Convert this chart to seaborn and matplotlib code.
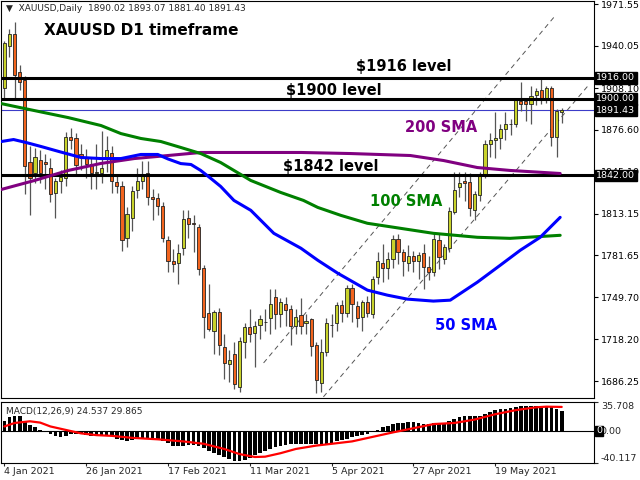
import matplotlib
matplotlib.use("Agg")
import matplotlib.pyplot as plt
import matplotlib.transforms as mtransforms
import seaborn as sns

# daily XAUUSD candles, 4 Jan 2021 .. 7 Jun 2021 (bar index = position)
opens = [1908, 1940, 1949, 1920, 1914, 1852, 1844, 1854, 1852, 1848,
         1829, 1838, 1840, 1871, 1870, 1858, 1856, 1851, 1844, 1844,
         1856, 1859, 1837, 1834, 1795, 1810, 1831, 1838, 1844, 1826,
         1825, 1819, 1793, 1777, 1776, 1787, 1810, 1806, 1803, 1772,
         1738, 1724, 1739, 1712, 1699, 1707, 1682, 1716, 1727, 1723,
         1729, 1731, 1734, 1750, 1737, 1745, 1741, 1728, 1736, 1730,
         1733, 1714, 1685, 1708, 1729, 1730, 1744, 1738, 1757, 1743,
         1735, 1746, 1737, 1765, 1776, 1772, 1779, 1794, 1784, 1776,
         1781, 1777, 1783, 1773, 1769, 1793, 1779, 1787, 1814, 1833,
         1838, 1837, 1816, 1827, 1843, 1866, 1869, 1870, 1877, 1881,
         1881, 1898, 1898, 1896, 1903, 1907, 1901, 1908, 1871, 1890.02]
highs = [1944, 1953, 1958, 1926, 1917, 1864, 1863, 1861, 1858, 1855,
         1840, 1846, 1875, 1878, 1874, 1866, 1862, 1856, 1866, 1876,
         1872, 1864, 1843, 1838, 1818, 1834, 1848, 1853, 1853, 1832,
         1829, 1822, 1796, 1786, 1790, 1816, 1816, 1812, 1805, 1774,
         1760, 1740, 1742, 1722, 1710, 1716, 1720, 1730, 1741, 1732,
         1736, 1741, 1756, 1756, 1749, 1750, 1744, 1741, 1749, 1737,
         1734, 1716, 1718, 1734, 1737, 1746, 1748, 1759, 1760, 1747,
         1748, 1751, 1766, 1784, 1790, 1784, 1797, 1798, 1786, 1789,
         1785, 1784, 1790, 1781, 1799, 1798, 1790, 1818, 1845, 1845,
         1845, 1844, 1830, 1845, 1869, 1874, 1890, 1881, 1890, 1885,
         1900, 1913, 1900, 1910, 1908, 1916, 1910, 1910, 1892, 1893.07]
lows = [1900, 1932, 1901, 1907, 1828, 1812, 1836, 1836, 1832, 1822,
        1810, 1829, 1834, 1862, 1842, 1846, 1840, 1832, 1832, 1836,
        1845, 1829, 1829, 1785, 1788, 1800, 1825, 1832, 1820, 1808,
        1812, 1792, 1769, 1769, 1760, 1782, 1795, 1784, 1767, 1719,
        1724, 1707, 1706, 1688, 1686, 1680, 1678, 1704, 1716, 1697,
        1718, 1724, 1722, 1726, 1727, 1728, 1714, 1722, 1722, 1722,
        1705, 1677, 1678, 1705, 1720, 1724, 1731, 1735, 1731, 1727,
        1724, 1735, 1734, 1760, 1761, 1764, 1772, 1775, 1766, 1770,
        1769, 1764, 1756, 1763, 1766, 1771, 1775, 1784, 1813, 1826,
        1823, 1811, 1808, 1823, 1840, 1856, 1855, 1862, 1869, 1873,
        1879, 1891, 1883, 1881, 1895, 1896, 1897, 1864, 1856, 1881.40]
closes = [1942, 1949, 1918, 1913, 1849, 1840, 1856, 1844, 1851, 1828,
          1838, 1841, 1871, 1869, 1850, 1856, 1851, 1844, 1845, 1848,
          1861, 1838, 1834, 1793, 1813, 1830, 1838, 1842, 1826, 1824,
          1819, 1795, 1777, 1775, 1783, 1809, 1805, 1805, 1771, 1735,
          1726, 1739, 1714, 1700, 1702, 1684, 1717, 1727, 1722, 1728,
          1733, 1731, 1745, 1737, 1746, 1740, 1728, 1735, 1728, 1732,
          1713, 1687, 1708, 1730, 1729, 1744, 1738, 1757, 1745, 1734,
          1746, 1738, 1764, 1777, 1772, 1779, 1794, 1784, 1777, 1781,
          1777, 1782, 1773, 1769, 1794, 1780, 1788, 1815, 1831, 1836,
          1836, 1817, 1828, 1842, 1866, 1869, 1870, 1877, 1881, 1881,
          1899, 1896, 1896, 1902, 1906, 1901, 1908, 1871, 1891, 1891.43]

# moving averages (bar index, price)
sma50_x = [-0.6, 1.8, 4.3, 7.2, 10.7, 15.0, 18.9, 22.8, 26.7, 30.0, 32.0, 34.5, 36.5,
           38.4, 40.4, 42.3, 44.9, 48.2, 52.7, 58.0, 61.3, 65.2, 71.0, 74.9, 78.8,
           83.9, 87.2, 92.5, 97.0, 100.9, 104.8, 108.7]
sma50_y = [1867.7, 1869.2, 1866.9, 1863.9, 1860.1, 1855.6, 1854.8, 1854.8, 1857.9, 1857.9,
           1854.5, 1851.0, 1850.3, 1845.8, 1839.7, 1833.7, 1823.1, 1815.6, 1798.2, 1786.9,
           1777.8, 1768.0, 1755.2, 1751.4, 1748.4, 1746.9, 1747.6, 1761.2, 1774.1, 1785.4,
           1795.2, 1810.3]
sma100_x = [-0.6, 5.9, 12.5, 18.9, 22.8, 26.7, 30.6, 34.5, 38.4, 42.3, 48.2, 54.0, 58.5,
            61.3, 65.8, 71.0, 76.1, 83.9, 92.5, 98.9, 108.7]
sma100_y = [1896.4, 1891.1, 1885.8, 1879.8, 1873.7, 1870.0, 1867.7, 1863.2, 1858.6, 1851.8,
            1838.2, 1829.2, 1823.1, 1817.8, 1811.8, 1805.8, 1802.8, 1798.2, 1795.2, 1794.4,
            1796.7]
sma200_x = [-0.6, 5.9, 12.5, 18.9, 25.4, 32.0, 38.4, 48.2, 58.0, 67.7, 79.4, 85.9, 92.5,
            98.9, 108.7]
sma200_y = [1831.4, 1838.2, 1845.8, 1851.1, 1854.8, 1857.1, 1859.4, 1859.4, 1859.4, 1858.6,
            1857.1, 1853.3, 1848.0, 1845.8, 1843.5]

# channel lines (bar index, price) at both ends
upper_x = [50.7, 107.7]
upper_y = [1700.1, 1962.8]
lower_x = [62.4, 114.5]
lower_y = [1674.4, 1911.5]

levels = [1916.0, 1900.0, 1842.0]
last_price = 1891.43
price_ticks = [1971.55, 1940.05, 1908.10, 1876.60, 1845.10, 1813.15,
               1781.65, 1749.70, 1718.20, 1686.25]

# MACD(12,26,9)
macd_hist = [12.8, 17.3, 18.2, 18.2, 12.0, 6.9, 4.3, 1.6, -0.8, -4.3,
             -6.1, -7.8, -6.4, -4.3, -3.9, -4.3, -5.2, -6.1, -6.1, -5.2,
             -5.6, -6.9, -9.6, -11.7, -12.0, -10.8, -9.6, -8.6, -9.6, -10.4,
             -11.2, -12.8, -15.5, -18.2, -19.0, -18.2, -17.3, -17.3, -19.0, -21.6,
             -24.6, -27.7, -29.4, -32.0, -34.4, -36.8, -37.1, -36.3, -33.6, -30.2,
             -27.7, -25.0, -22.4, -20.3, -19.0, -17.3, -16.4, -16.0, -16.4, -16.0,
             -16.0, -16.4, -16.8, -16.4, -15.2, -12.8, -11.2, -9.6, -7.8, -6.9,
             -5.2, -3.4, -1.8, 1.8, 4.3, 6.4, 8.6, 9.6, 10.4, 10.8,
             10.8, 9.9, 9.0, 9.0, 9.6, 9.9, 10.4, 12.0, 14.7, 17.3,
             18.4, 18.4, 18.2, 19.0, 21.6, 24.0, 25.9, 26.8, 27.7, 28.0,
             29.4, 30.6, 30.6, 30.6, 31.1, 30.6, 30.2, 29.4, 27.7, 24.537]
signal_x = [0, 2, 5, 7, 9, 12, 15, 18, 21, 25, 30, 35, 39, 43, 46, 49, 51, 54, 57,
            61, 64, 68, 72, 76, 80, 84, 88, 92, 96, 100, 104, 106, 109]
signal_y = [5.6, 9.9, 12.0, 10.4, 5.6, 1.3, -3.0, -5.2, -6.1, -8.6, -10.4, -13.0, -16.0,
            -22.4, -28.8, -32.4, -32.0, -27.7, -22.4, -18.2, -16.0, -13.0, -7.4, -1.8,
            3.4, 8.6, 9.9, 14.2, 20.8, 25.9, 29.4, 30.2, 29.865]
macd_ticks = [35.708, 0.0, -40.117]

date_pos = [0, 16, 32, 48, 64, 80, 96]
date_labels = ["4 Jan 2021", "26 Jan 2021", "17 Feb 2021", "11 Mar 2021",
               "5 Apr 2021", "27 Apr 2021", "19 May 2021"]


def draw_candles(ax):
    bull, bear = "#c8d22a", "#f2641e"
    idx = list(range(len(opens)))
    ax.vlines(idx, lows, highs, color="#555555", linewidth=0.9, zorder=2)
    for i in idx:
        o, c = opens[i], closes[i]
        ax.bar(i, abs(c - o), bottom=min(o, c), width=0.62,
               color=bull if c >= o else bear, edgecolor="#222222",
               linewidth=0.6, zorder=3)


def main():
    sns.set_style("white")
    plt.rcParams['font.family'] = ['DejaVu Sans']
    small = 6.8

    fig = plt.figure(figsize=(6.4, 4.8), dpi=100)
    ax = fig.add_axes([0.002, 0.171, 0.926, 0.827])
    ax2 = fig.add_axes([0.002, 0.035, 0.926, 0.127])

    # level lines and current price
    for lv in levels:
        ax.axhline(lv, color="black", linewidth=2.2, zorder=4)
    ax.axhline(last_price, color="#3c3cc8", linewidth=0.8, zorder=1)

    # channel
    ax.plot(upper_x, upper_y, color="#555555", linewidth=0.7, linestyle=(0, (5, 4)), zorder=1)
    ax.plot(lower_x, lower_y, color="#555555", linewidth=0.7, linestyle=(0, (5, 4)), zorder=1)

    draw_candles(ax)

    sns.lineplot(x=sma200_x, y=sma200_y, ax=ax, color="#800080", linewidth=2.2, zorder=5)
    sns.lineplot(x=sma100_x, y=sma100_y, ax=ax, color="#008000", linewidth=2.2, zorder=5)
    sns.lineplot(x=sma50_x, y=sma50_y, ax=ax, color="#0000ff", linewidth=2.2, zorder=5)

    ax.set_xlim(-0.6, 115.3)
    ax.set_ylim(1673.6, 1974.1)
    ax.set_xticks([])
    ax.yaxis.tick_right()
    ax.set_yticks(price_ticks)
    ax.set_yticklabels(["%.2f" % v for v in price_ticks])
    ax.tick_params(axis="y", direction="out", length=3, width=0.8, pad=2,
                   labelsize=small, colors="black", right=True, left=False)
    for s in ax.spines.values():
        s.set_color("black")
        s.set_linewidth(0.8)

    # boxed price labels
    trans = mtransforms.blended_transform_factory(ax.transAxes, ax.transData)
    for v in levels + [last_price]:
        ax.text(1.004, v, "%.2f" % v, transform=trans, ha="left", va="center",
                fontsize=small, color="white", clip_on=False, zorder=10,
                bbox=dict(boxstyle="square,pad=0.15", fc="black", ec="black"))

    ax.text(0.008, 0.982, "\u25bc  XAUUSD,Daily  1890.02 1893.07 1881.40 1891.43",
            transform=ax.transAxes, ha="left", va="center", fontsize=6.5)
    bold = dict(fontsize=10.5, fontweight="bold", ha="left", va="center", zorder=8)
    ax.text(7.8, 1951.5, "XAUUSD D1 timeframe", color="black", **dict(bold, fontsize=11))
    ax.text(68.7, 1924.3, "$1916 level", color="black", **bold)
    ax.text(55.0, 1906.2, "$1900 level", color="black", **bold)
    ax.text(78.4, 1878.3, "200 SMA", color="#800080", **bold)
    ax.text(54.4, 1848.8, "$1842 level", color="black", **bold)
    ax.text(71.6, 1822.4, "100 SMA", color="#008000", **bold)
    ax.text(84.3, 1728.8, "50 SMA", color="#0000ff", **bold)

    # MACD pane
    ax2.bar(range(len(macd_hist)), macd_hist, width=0.72, color="black", linewidth=0)
    ax2.axhline(0, color="black", linewidth=0.8)
    sns.lineplot(x=signal_x, y=signal_y, ax=ax2, color="#ff0000", linewidth=1.6)
    ax2.set_xlim(-0.6, 115.3)
    ax2.set_ylim(-40.117, 35.708)
    ax2.yaxis.tick_right()
    ax2.set_yticks(macd_ticks)
    ax2.set_yticklabels(["35.708", "0.00", "-40.117"])
    ax2.tick_params(axis="y", direction="out", length=3, width=0.8, pad=2,
                    labelsize=small, right=True, left=False)
    labs = ax2.get_yticklabels()
    labs[0].set_va("top")
    labs[2].set_va("bottom")
    ax2.text(1.004, 0.0, "0", transform=mtransforms.blended_transform_factory(ax2.transAxes, ax2.transData),
             ha="left", va="center", fontsize=small, color="white", clip_on=False, zorder=10,
             bbox=dict(boxstyle="square,pad=0.1", fc="black", ec="black"))
    ax2.set_xticks(date_pos)
    ax2.set_xticklabels(date_labels, ha="left")
    ax2.tick_params(axis="x", direction="out", length=2, width=0.8, pad=1,
                    labelsize=small, bottom=True)
    ax2.text(0.008, 0.85, "MACD(12,26,9) 24.537 29.865", transform=ax2.transAxes,
             ha="left", va="center", fontsize=6.5)
    for s in ax2.spines.values():
        s.set_color("black")
        s.set_linewidth(0.8)

    fig.savefig("out.png", dpi=100)


if __name__ == '__main__':
    main()
